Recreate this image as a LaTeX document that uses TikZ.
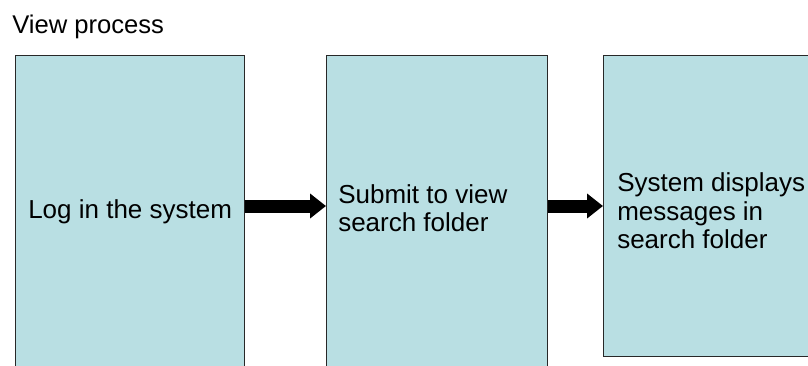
\documentclass[tikz,border=0pt]{standalone}
\usepackage{fontspec}
\setmainfont{Liberation Sans}
\usetikzlibrary{arrows.meta}
\definecolor{boxfill}{RGB}{185,223,227}
\definecolor{boxline}{RGB}{40,40,40}
\begin{document}
\begin{tikzpicture}[x=0.75pt,y=-0.75pt,
  stepbox/.style={draw=boxline,line width=1.1pt,fill=boxfill,inner sep=0pt,anchor=north west},
  boxtext/.style={inner sep=0pt,anchor=west,align=left,font=\fontsize{19.5}{21.4}\selectfont},
  flow/.style={line width=9.75pt,-{Triangle[length=12pt,width=18pt]}}]
\useasboundingbox (0,0) rectangle (808,365);
\clip (0,0) rectangle (808,365);
% title
\node[inner sep=0pt,anchor=base west,font=\fontsize{19.2}{21.4}\selectfont] (title) at (12,33) {View process};
% process steps
\node[stepbox,minimum width=171.75pt,minimum height=243.75pt] (b1) at (15,55) {};
\node[stepbox,minimum width=165.75pt,minimum height=243.75pt] (b2) at (326,55) {};
\node[stepbox,minimum width=170.25pt,minimum height=225.75pt] (b3) at (603,55) {};
\node[boxtext] (t1) at (28,212) {Log in the system};
\node[boxtext] (t2) at (338,208) {Submit to view\\search folder};
\node[boxtext] (t3) at (617,211) {System displays\\messages in\\search folder};
% connectors
\coordinate (mid) at (0,206);
\draw[flow] (b1.east |- mid) -- (b2.west |- mid);
\draw[flow] (b2.east |- mid) -- (b3.west |- mid);
\end{tikzpicture}
\end{document}
